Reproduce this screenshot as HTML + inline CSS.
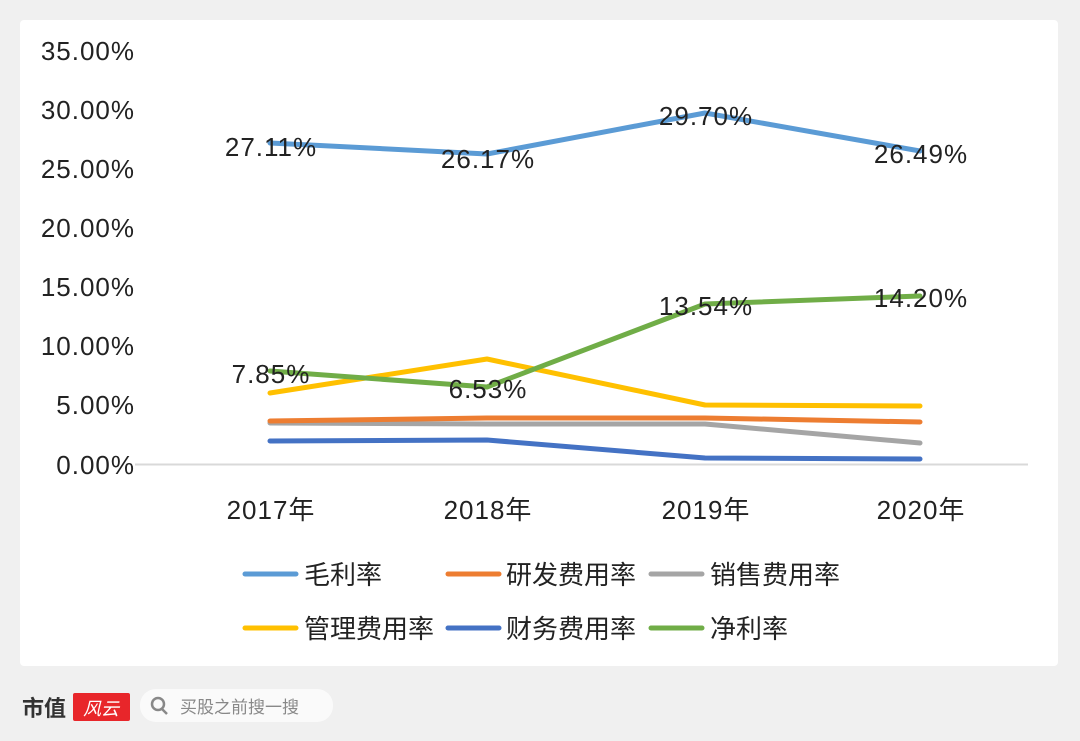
<!DOCTYPE html>
<html><head><meta charset="utf-8"><style>
body{margin:0;width:1080px;height:741px;background:#f0f0f0;overflow:hidden;font-family:"Liberation Sans","Noto Sans CJK SC",sans-serif}
.card{position:absolute;left:20px;top:20px;width:1038px;height:646px;background:#fff;border-radius:4px}
svg{position:absolute;left:0;top:0}
</style></head><body>
<div class="card"></div>
<svg width="1080" height="741" font-family="Liberation Sans, Noto Sans CJK SC, sans-serif">
<g font-size="26" fill="#222" text-anchor="end" letter-spacing="1">
<text x="135" y="60">35.00%</text><text x="135" y="119">30.00%</text><text x="135" y="178">25.00%</text><text x="135" y="237">20.00%</text><text x="135" y="296">15.00%</text><text x="135" y="355">10.00%</text><text x="135" y="414">5.00%</text><text x="135" y="474">0.00%</text>
</g>
<line x1="135" y1="464.5" x2="1028" y2="464.5" stroke="#d9d9d9" stroke-width="2"/>
<g font-size="26" fill="#222" text-anchor="middle" letter-spacing="1">
<text x="271" y="519">2017年</text><text x="488" y="519">2018年</text><text x="706" y="519">2019年</text><text x="921" y="519">2020年</text>
</g>
<g fill="none" stroke-width="5" stroke-linejoin="round" stroke-linecap="round">
<polyline stroke="#5b9bd5" points="270,143 487,154 705,113 920,151"/>
<polyline stroke="#ffc000" points="270,393 487,359 705,405 920,406"/>
<polyline stroke="#a5a5a5" points="270,423 487,424 705,424 920,443"/>
<polyline stroke="#ed7d31" points="270,421 487,418 705,418 920,422"/>
<polyline stroke="#4472c4" points="270,441 487,440 705,458 920,459"/>
<polyline stroke="#70ad47" points="270,371 487,387 705,304 920,296"/>
</g>
<g font-size="26" fill="#222" text-anchor="middle" letter-spacing="1">
<text x="271" y="156">27.11%</text><text x="488" y="168">26.17%</text><text x="706" y="125">29.70%</text><text x="921" y="163">26.49%</text>
<text x="271" y="383">7.85%</text><text x="488" y="398">6.53%</text><text x="706" y="315">13.54%</text><text x="921" y="307">14.20%</text>
</g>
<g stroke-width="5" stroke-linecap="round">
<line x1="245" y1="574" x2="296" y2="574" stroke="#5b9bd5"/>
<line x1="448" y1="574" x2="499" y2="574" stroke="#ed7d31"/>
<line x1="651" y1="574" x2="702" y2="574" stroke="#a5a5a5"/>
<line x1="245" y1="628" x2="296" y2="628" stroke="#ffc000"/>
<line x1="448" y1="628" x2="499" y2="628" stroke="#4472c4"/>
<line x1="651" y1="628" x2="702" y2="628" stroke="#70ad47"/>
</g>
<g font-size="26" fill="#222">
<text x="304" y="584">毛利率</text><text x="506" y="584">研发费用率</text><text x="710" y="584">销售费用率</text>
<text x="304" y="638">管理费用率</text><text x="506" y="638">财务费用率</text><text x="710" y="638">净利率</text>
</g>
<text x="22" y="716" font-size="22" font-weight="bold" fill="#333">市值</text>
<rect x="73" y="693" width="57" height="28" rx="2" fill="#e8262a"/>
<text x="101" y="715" font-size="18" fill="#fff" text-anchor="middle" font-style="italic">风云</text>
<rect x="140" y="689" width="193" height="33" rx="16" fill="#fafafa"/>
<circle cx="158" cy="704" r="6" fill="none" stroke="#888" stroke-width="2.5"/>
<line x1="162" y1="709" x2="167" y2="714" stroke="#888" stroke-width="2.5"/>
<text x="180" y="713" font-size="17" fill="#888">买股之前搜一搜</text>
</svg>
</body></html>
